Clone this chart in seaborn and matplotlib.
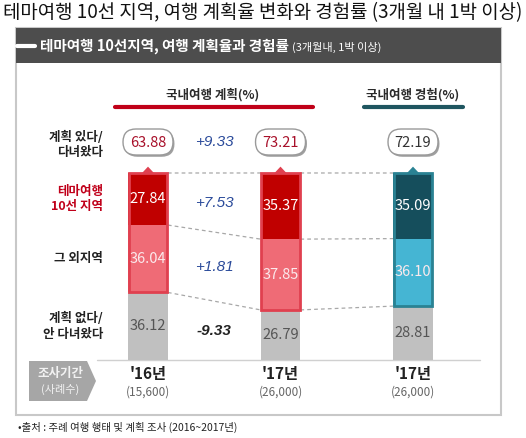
import matplotlib
matplotlib.use("Agg")
import matplotlib.pyplot as plt
import seaborn as sns
import pandas as pd
from matplotlib.patches import FancyBboxPatch, Rectangle, Polygon
from matplotlib.transforms import Affine2D

# ---------------- data ----------------
bars = ["'16 계획", "'17 계획", "'17 경험"]
theme10 = [27.84, 35.37, 35.09]      # 테마여행 10선 지역
other = [36.04, 37.85, 36.10]        # 그 외지역
none_ = [36.12, 26.79, 28.81]        # 계획 없다 / 안 다녀왔다
totals = [63.88, 73.21, 72.19]       # 계획 있다 / 다녀왔다 (as printed)
diffs = [9.33, 7.53, 1.81, -9.33]
years = ["'16년", "'17년", "'17년"]
samples = ["(15,600)", "(26,000)", "(26,000)"]
row_labels = ["계획 있다/\n다녀왔다", "테마여행\n10선 지역", "그 외지역", "계획 없다/\n안 다녀왔다"]
legend_labels = ["국내여행 계획(%)", "국내여행 경험(%)"]
title = "테마여행 10선 지역, 여행 계획율 변화와 경험률 (3개월 내 1박 이상)"
header = "테마여행 10선지역, 여행 계획율과 경험률"
header_small = "(3개월내, 1박 이상)"
source = "•출처 : 주례 여행 행태 및 계획 조사 (2016~2017년)"

# ---------------- style ----------------
sns.set_theme(style="white")
plt.rcParams['font.family'] = ['Noto Sans CJK KR', 'DejaVu Sans']

W, H, DPI = 526, 438, 100
fig = plt.figure(figsize=(W / DPI, H / DPI), dpi=DPI)
fig.patch.set_facecolor("white")
ax = fig.add_axes([0, 0, 1, 1])
ax.set_facecolor("none")

# pixel transform (origin top-left)
T = Affine2D().scale(1.0 / W, -1.0 / H).translate(0, 1) + fig.transFigure

X0, DX = 148.0, 132.5
Y0, DY = 360.0, 1.87
def dx(px): return (px - X0) / DX
def dy(py): return (Y0 - py) / DY

dark_cols = ["#c00000", "#c00000", "#154e5c"]
light_cols = ["#ef6b76", "#ef6b76", "#45b5d3"]
edge_cols = ["#e0404f", "#e0404f", "#2a8293"]
grey = "#c0c0c0"

df = pd.DataFrame({
    "bar": bars,
    "top": [a + b + c for a, b, c in zip(theme10, other, none_)],
    "mid": [b + c for b, c in zip(other, none_)],
    "low": none_,
})

BW = 0.3
sns.barplot(data=df, x="bar", y="top", hue="bar", palette=dict(zip(bars, dark_cols)),
            width=BW, saturation=1, legend=False, linewidth=0, ax=ax, zorder=3)
sns.barplot(data=df, x="bar", y="mid", hue="bar", palette=dict(zip(bars, light_cols)),
            width=BW, saturation=1, legend=False, linewidth=0, ax=ax, zorder=3)
sns.barplot(data=df, x="bar", y="low", hue="bar", palette=dict(zip(bars, [grey] * 3)),
            width=BW, saturation=1, legend=False, linewidth=0, ax=ax, zorder=3)
plan = [a + b for a, b in zip(theme10, other)]
ax.bar(range(3), plan, bottom=none_, width=BW - 0.012, fill=False,
       edgecolor=edge_cols, linewidth=2, zorder=4)

ax.set_xlim(dx(0), dx(W))
ax.set_ylim(dy(H), dy(0))
ax.axis("off")

# ---------------- panel ----------------
fig.patches.append(Rectangle((16, 28), 485, 387, transform=T, facecolor="none",
                             edgecolor="#c8c8c8", linewidth=1.5, zorder=0))
fig.patches.append(Rectangle((16, 28), 485, 35, transform=T, facecolor="#4d4d4d",
                             edgecolor="none", zorder=1))
fig.lines.append(plt.Line2D([17, 35], [45.5, 45.5], transform=T, color="white", lw=3))

fig.text(3 / W, 1 - 13 / H, title, fontsize=13.6, color="#111111", va="center", ha="left")
fig.text(40 / W, 1 - 46 / H, header, fontsize=10.5, fontweight="bold", color="white",
         va="center", ha="left")
fig.text(292 / W, 1 - 47 / H, header_small, fontsize=8, color="white", va="center", ha="left")

# legend labels + lines
fig.text(213 / W, 1 - 95 / H, legend_labels[0], fontsize=9, fontweight="bold",
         color="#2a2a2a", ha="center", va="center")
fig.lines.append(plt.Line2D([115, 313], [107, 107], transform=T, color="#c00018", lw=3))
fig.text(413 / W, 1 - 95 / H, legend_labels[1], fontsize=9, fontweight="bold",
         color="#2a2a2a", ha="center", va="center")
fig.lines.append(plt.Line2D([364, 463], [107, 107], transform=T, color="#1f5660", lw=3))

# ---------------- bubbles + triangles ----------------
bub_txt = ["#a8102a", "#a8102a", "#333333"]
for i in range(3):
    cx = X0 + i * DX
    for off, fc, ec in [((1.5, 1.8), "#a0a0a0", "none"), ((0, 0), "white", "#9a9a9a")]:
        fig.patches.append(FancyBboxPatch((cx - 25 + off[0], 129 + off[1]), 50, 26,
                                          boxstyle="round,pad=0,rounding_size=13",
                                          transform=T, facecolor=fc, edgecolor=ec,
                                          linewidth=1, zorder=2))
    fig.text(cx / W, 1 - 142.5 / H, f"{totals[i]:.2f}", fontsize=10.5, color=bub_txt[i],
             ha="center", va="center", zorder=5)
    ax.add_patch(Polygon([[i - 0.045, df["top"][i]], [i + 0.045, df["top"][i]],
                          [i, df["top"][i] + 3.4]], closed=True,
                         facecolor=edge_cols[i], edgecolor="none", zorder=4))

# ---------------- segment labels ----------------
for i in range(3):
    ax.text(i, none_[i] + other[i] + theme10[i] / 2, f"{theme10[i]:.2f}", color="white",
            fontsize=10.5, ha="center", va="center", zorder=6)
    ax.text(i, none_[i] + other[i] / 2, f"{other[i]:.2f}", color="#fbe9ec",
            fontsize=10.5, ha="center", va="center", zorder=6)
    ax.text(i, none_[i] / 2, f"{none_[i]:.2f}", color="#555555",
            fontsize=10.5, ha="center", va="center", zorder=6)

# ---------------- dashed connectors ----------------
levels = [df["top"].tolist(), df["mid"].tolist(), df["low"].tolist()]
for lv in levels:
    for i in range(2):
        ax.plot([i + BW / 2, i + 1 - BW / 2], [lv[i], lv[i + 1]], color="#a8a8a8",
                lw=0.9, ls=(0, (3, 2.5)), zorder=2)

# baseline
ax.plot([dx(97), dx(480)], [0, 0], color="#d0d0d0", lw=1, zorder=2)

# ---------------- difference labels ----------------
diff_y = [dy(142),
          (none_[0] + other[0] + theme10[0] / 2 + none_[1] + other[1] + theme10[1] / 2) / 2,
          (none_[0] + other[0] / 2 + none_[1] + other[1] / 2) / 2,
          (none_[0] / 2 + none_[1] / 2) / 2]
for k, (d, yv) in enumerate(zip(diffs, diff_y)):
    neg = d < 0
    ax.text(0.5, yv, f"{'+' if d > 0 else '-'}{abs(d):.2f}", fontsize=11,
            family=["Liberation Sans", "DejaVu Sans"], style="italic",
            fontweight="bold" if neg else "normal",
            color="#222222" if neg else "#2a4a9a", ha="center", va="center")

# ---------------- row labels ----------------
row_y = [dy(145), none_[0] + other[0] + theme10[0] / 2, none_[0] + other[0] / 2, none_[0] / 2]
row_col = ["#222222", "#c0001a", "#222222", "#222222"]
for lab, yv, c in zip(row_labels, row_y, row_col):
    ax.text(dx(103), yv, lab, fontsize=9, fontweight="bold", color=c, ha="right",
            va="center", linespacing=1.25)

# ---------------- bottom labels ----------------
fig.patches.append(Polygon([[29, 361], [87, 361], [96, 381], [87, 401], [29, 401]],
                           closed=True, transform=T, facecolor="#a6a6a6", edgecolor="none"))
fig.text(60 / W, 1 - 374 / H, "조사기간", fontsize=9, fontweight="bold", color="#f2f2f2",
         ha="center", va="center")
fig.text(60 / W, 1 - 389 / H, "(사례수)", fontsize=8, color="#f2f2f2",
         ha="center", va="center")
for i in range(3):
    ax.text(i, dy(374), years[i], fontsize=11, fontweight="bold", color="#222222",
            ha="center", va="center")
    ax.text(i, dy(392), samples[i], fontsize=8.5, color="#666666", ha="center", va="center")

fig.text(18 / W, 1 - 427 / H, source, fontsize=7.5, color="#222222", ha="left", va="center")

fig.savefig("out.png", dpi=DPI, facecolor="white")
